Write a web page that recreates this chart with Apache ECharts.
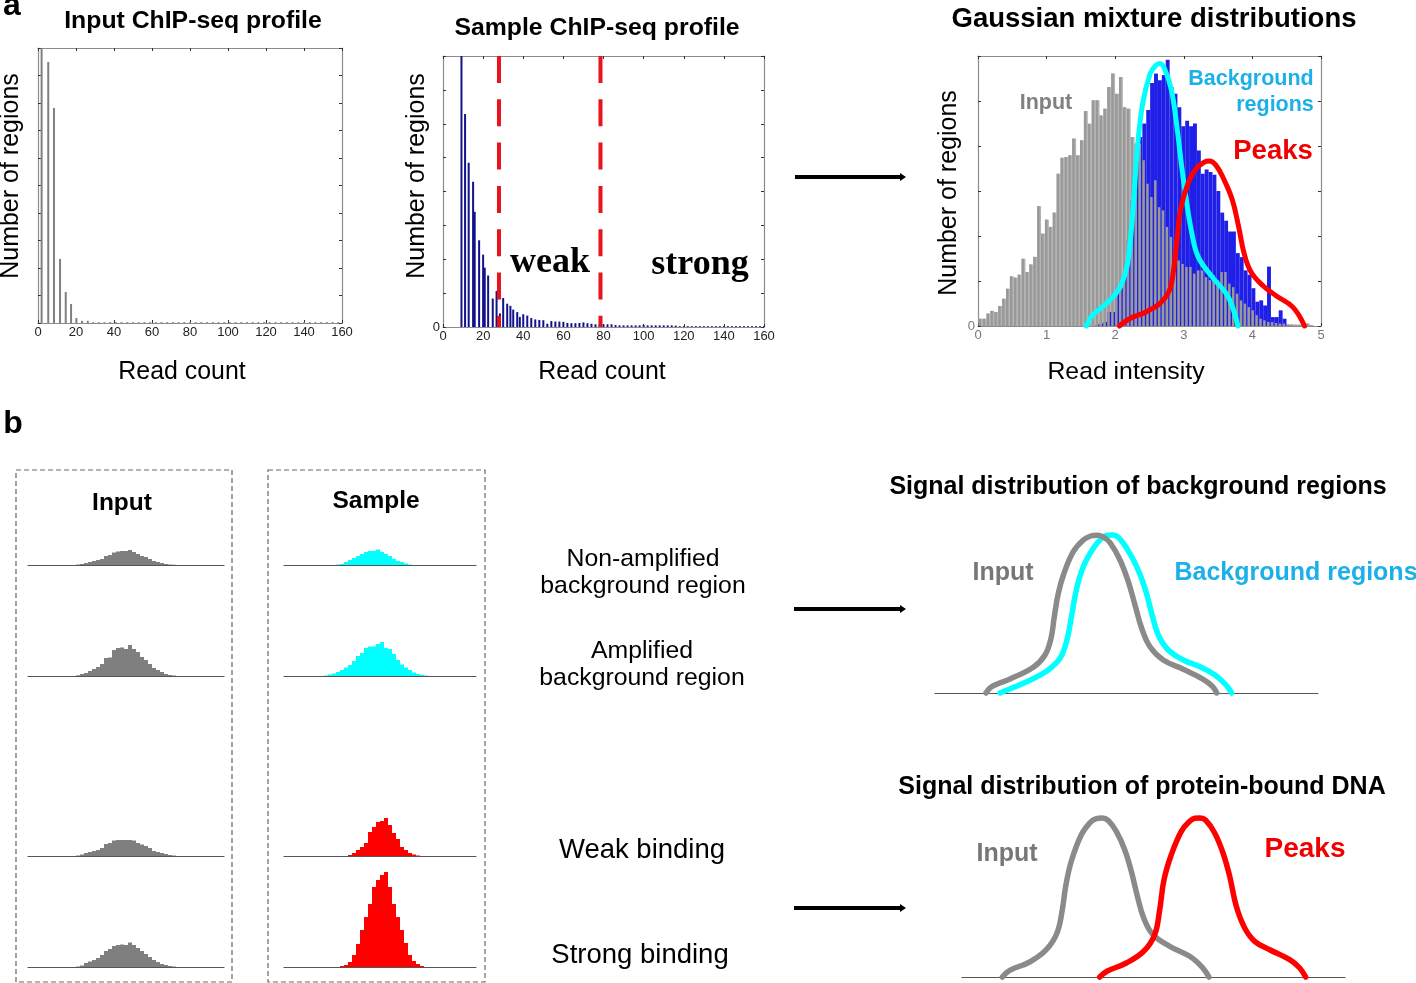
<!DOCTYPE html>
<html><head><meta charset="utf-8">
<script src="https://cdn.jsdelivr.net/npm/echarts@6/dist/echarts.min.js"></script>
<style>html,body{margin:0;padding:0;background:#fff}#c{width:1416px;height:983px}</style>
</head><body><div id="c"></div>
<script>
// ---------- panel a: input profile
const inputCounts = [1.9,5.4,8.4,11.6,14.6,17.4,20.2,23.2,26.2,29,32,35,38,41,44,47,50,53,56,59,62,65,68,71,74,77,80,83,86,89,92,95,98,101,104,107,110,113,116,119,122,125,128,131,134,137,140,143,146,149,152,155,158];
const inputRegions = [100,94.9,78.2,23.3,11.3,6.9,1.8,0.8,0.8,0.3,0.3,0.3,0.3,0.3,0.3,0.3,0.3,0.3,0.3,0.3,0.3,0.3,0.3,0.3,0.3,0.3,0.3,0.3,0.3,0.3,0.3,0.3,0.3,0.3,0.3,0.3,0.3,0.3,0.3,0.3,0.3,0.3,0.3,0.3,0.3,0.3,0.3,0.3,0.3,0.3,0.3,0.3,0.3];
// ---------- panel a: sample profile
const sampleCounts = [9.2,11,12.8,15,15.8,18,20,20.8,22.5,24.8,26.7,28.4,30,32,33.6,35,37,38.3,40,42,44,46,48,50,52,54,56,58,60,62,64,66,68,70,72,74,76,78,80,82,84,86,88,90,92,94,96,98,100,102,104,106,108,110,112,114,116,118,120,122,124,126,128,130,132,134,136,138,140,142,144,146,148,150,152,154,156,158,160];
const sampleRegions = [100,78.6,60.6,53.6,42.5,32,26.7,21.9,19,10.5,13.3,5,10.7,8.6,7.8,6.4,5.5,3.7,4.7,4.2,3.3,2.8,2.6,2.5,1.2,2.2,2,2,1.9,1.5,1.4,1.4,1.5,1.7,1.4,1.2,1,0.9,1,1,1,0.7,0.6,0.6,0.6,0.6,0.6,0.6,0.8,0.6,0.6,0.6,0.6,0.6,0.6,0.6,0.5,0.3,0.3,0.3,0.3,0.3,0.3,0.3,0.3,0.3,0.3,0.3,0.3,0.3,0.3,0.3,0.3,0.3,0.3,0.3,0.3,0.3,0.3];
const weakCut = [27.9,27.9], strongCut = [78.5,78.5], cutRegions = [100,0];
// ---------- panel a: gaussian mixture
const binWidth = 0.0568;
const inputIntensity = [2.7,2.7,4.6,5.6,5.2,7.4,10.1,13.8,18.4,17.9,19,24.9,20,22.8,25.6,44.4,34.2,39.4,36.7,42,56.4,62.3,62.6,63.2,69.4,63.2,68.8,79.6,74.9,83.6,83.6,78,80.5,88.5,93.5,86,92.2,81,80.5,70,67.5,67.5,61.4,52.7,47.8,54,44,42.8,36.7,33,26.8,24.3,23,21.9,21.9,19.4,20.6,20.6,18.1,17,18.8,17,20,20,15.7,14.4,12,9.5,8.3,7,5.8,4,2.7,2.1,1.5,1.5,1.1,0.9,0.9,0.6,0.6,0.5,0.5,0.9,0.9,0.3];
const sampleIntensity = [0,0,0,0,0,0,0,0,0,0,0,0,0,0,0,0,0,0,0,0,0,0,0,0,0,0,0,0,0,0,0.5,0.9,1.5,5.2,5.2,13,14,19.4,32,46.5,62.6,70,75,80,90,93.5,91,93,98.6,88.5,86,81,74,76,74,75,65,56.4,58,57,56,50,42,39,35,35,27,25.5,20.6,19,14,9,9.5,7.6,22,3.3,3.3,5.8,2.7,0.2];
const bgCurveX = [1.58,1.67,1.87,2.06,2.17,2.22,2.27,2.32,2.40,2.51,2.59,2.65,2.72,2.82,2.90,2.97,3.03,3.11,3.21,3.42,3.62,3.71,3.79];
const bgCurveY = [0,4,8.3,13.9,21.9,31.8,46.5,65,82.3,93.5,96.5,97.2,95.3,87.3,73.7,58.9,47.8,35.4,25.6,18,12,7,0];
const peakCurveX = [2.06,2.21,2.45,2.65,2.79,2.85,2.90,2.95,3.06,3.18,3.30,3.37,3.47,3.59,3.71,3.80,3.88,3.98,4.15,4.34,4.59,4.76];
const peakCurveY = [0,2.7,5.2,8.3,13.2,20.6,31.7,42.8,52.7,58.3,60.7,61.1,59.5,54,46.5,36.7,26.8,20,15,11.3,7,0];
// ---------- panel b: region histograms
const inputNonAmp = [0,0,0,0,0,0,0,0,0,0,0,0,0.5,1,2,3,4,5,6,9,10,12.5,13.5,14,14,15,13,11,9,8,6,4,3,2,1,0.5,0.3,0,0,0,0,0,0,0,0,0,0,0,0];
const inputAmp = [0,0,0,0,0,0,0,0,0,0,0,0,0.7,2,3,5,7,9,12,18,18.5,26,28,28.5,27,31,27,24,19,16,12,8,6,4,2,1,0.5,0,0,0,0,0,0,0,0,0,0,0,0];
const inputWeak = [0,0,0,0,0,0,0,0,0,0,0,0,0.5,1.5,3,4,5,6,8,12,13,15.5,16,16,16,16,15.5,13,11.5,10,8,5,4,3,2,1,0.5,0,0,0,0,0,0,0,0,0,0,0,0];
const inputStrong = [0,0,0,0,0,0,0,0,0,0,0,0,0.5,1.5,4,5.5,7,9,12,16,18,21,22,22.5,22,24.5,22,19,16,13,10,7,5,3,2,1,0.5,0,0,0,0,0,0,0,0,0,0,0,0];
const sampleNonAmp = [0,0,0,0,0,0,0,0,0,0,0,0,0,0.5,1,3,5,7,9,11,13,14,14,15.5,13,11,9,6,4,3,1.5,0.5,0,0,0,0,0,0,0,0,0,0,0,0,0,0,0,0];
const sampleAmp = [0,0,0,0,0,0,0,0,0,0,0.5,1.5,2.5,4,6,8.5,11,15,20,23,28,29.5,29.5,32,34,28,27,22,16,11.5,8.5,6,3.5,2,1,0.5,0,0,0,0,0,0,0,0,0,0,0,0];
const sampleWeak = [0,0,0,0,0,0,0,0,0,0,0,0,0,0,0,0,1,3,6,9,13,24,29,34,35,38,31,23,17,9,6,3,1.5,0.5,0,0,0,0,0,0,0,0,0,0,0,0,0,0];
const sampleStrong = [0,0,0,0,0,0,0,0,0,0,0,0,0,0,1,2,5,12,23,37,50,63,80,87,92,95,80,63,50,37,24,12,6,3,1,0,0,0,0,0,0,0,0,0,0,0,0,0];
// ---------- panel b: schematic curves
const bgInputX = [51,56.7,75,98.3,110,116,119.3,123.3,129,138.3,148.3,155.7,161.7,167.7,175,185,193.3,200,206.7,215,228.3,248.3,268.3,277.7,281.7];
const bgInputY = [0,6.3,14,25.7,38,54.7,76.3,99.7,119.7,141.3,153,157,157.7,156.3,150.3,133,111.3,88,64.7,46.3,33,23.7,13.7,6.3,0];
const bgRegionX = [65,72.3,91.7,111.7,125,132.3,137,141.7,148.3,158.3,166.7,172.3,177.7,183.3,191.7,201.7,210,216.7,223.3,233.3,248.3,265,280,291,296.7];
const bgRegionY = [0,3,11.3,22,34.7,54.7,79.7,104.7,126.3,144.7,154.7,157.7,158,155.7,144.7,126.3,104.7,79.7,58,43,33,26.3,18,8,0];
const dnaInputX = [40.3,47.7,67.7,84.3,95,100.3,103.7,109.3,119.3,128.3,134.3,140.3,146,154.3,162.7,169.3,175,181.7,191,207.7,227.7,240.3,247];
const dnaInputY = [0,6.7,15,27.3,44,67.3,90.7,115.7,142.3,154.7,158.3,159,156.7,145.7,127.3,105.7,82.3,59,42.3,30.7,20.7,9.7,0];
const dnaPeakX = [137.7,145,164.3,181.7,192.7,197.7,202,209.3,219.3,227.7,232.7,237.7,243.7,252.7,261,267.7,274.3,282.7,292.7,307.7,327.7,337.7,343.7];
const dnaPeakY = [0,5.7,14,25.7,42.3,67.3,97.3,122.3,145.7,155.7,158.7,159,156.7,144,124,100.7,70.7,49,35.7,27.3,17.3,9,0];

const FONT = '"Liberation Sans", Arial, sans-serif';
const GRAY='#8a8a8a', CYAN='#00ffff', RED='#ff0000', SKY='#1cb0e8';
const zip=(a,b)=>a.map((v,i)=>[v,b[i]]);
const grids=[], xAxes=[], yAxes=[], series=[];

function frame(g, xMax, xInt, yMax, yInt, showZero, labelColor){
  const gi=grids.length; grids.push(Object.assign({containLabel:false},g));
  const base={type:'value',gridIndex:gi,splitLine:{show:false},
    axisLine:{show:true,onZero:false,lineStyle:{color:'#8c8c8c',width:1.2}},
    axisTick:{show:true,inside:true,length:3,lineStyle:{color:'#333',width:1}}};
  const xi=xAxes.length, yi=yAxes.length;
  xAxes.push(Object.assign({},base,{position:'bottom',min:0,max:xMax,interval:xInt,
    axisLabel:{show:true,color:labelColor,fontSize:13,fontFamily:FONT,margin:3,hideOverlap:false}}));
  xAxes.push(Object.assign({},base,{position:'top',min:0,max:xMax,interval:xInt,axisLabel:{show:false}}));
  yAxes.push(Object.assign({},base,{position:'left',min:0,max:yMax,interval:yInt,
    axisLabel:{show:showZero,color:labelColor,fontSize:13,fontFamily:FONT,margin:3,formatter:v=>v===0?'0':''}}));
  yAxes.push(Object.assign({},base,{position:'right',min:0,max:yMax,interval:yInt,axisLabel:{show:false}}));
  return {xAxisIndex:xi,yAxisIndex:yi};
}
function bars(ax,data,color,w,extra){
  series.push(Object.assign({type:'bar',xAxisIndex:ax.xAxisIndex,yAxisIndex:ax.yAxisIndex,data,barWidth:w,barGap:'-100%',
    itemStyle:{color},silent:true,animation:false},extra||{}));
}
function curve(ax,data,color,w,extra){
  series.push(Object.assign({type:'line',xAxisIndex:ax.xAxisIndex,yAxisIndex:ax.yAxisIndex,data,smooth:0.4,symbol:'none',
    clip:false,z:5,lineStyle:{color,width:w,cap:'round',join:'round'},silent:true,animation:false},extra||{}));
}
// Panel a
const a1=frame({left:38,top:48,width:304,height:275},160,20,100,10,false,'#222');
bars(a1,zip(inputCounts,inputRegions),'#7f7f7f',2);
const a2=frame({left:443,top:56,width:321,height:271},160,20,100,12.5,true,'#222');
bars(a2,zip(sampleCounts,sampleRegions),'#12128c',2);
[weakCut,strongCut].forEach(c=>{
  series.push({type:'line',xAxisIndex:a2.xAxisIndex,yAxisIndex:a2.yAxisIndex,data:zip(c,cutRegions),symbol:'none',clip:true,z:5,silent:true,animation:false,
    lineStyle:{color:'#e8141c',width:4,type:[27,16.3]}});
});
const a3=frame({left:978,top:56,width:343,height:270},5,1,100,100/6,true,'#777');
const inputBars=inputIntensity.map((v,i)=>[(i+0.5)*binWidth,v]);
bars(a3,inputBars,'#b4b4b4',3.9);
bars(a3,sampleIntensity.map((v,i)=>[(i+0.5)*binWidth,v]),'#1f1fe8',3.9);
bars(a3,inputBars,'#999999',2.5);
curve(a3,zip(bgCurveX,bgCurveY),CYAN,5);
curve(a3,zip(peakCurveX,peakCurveY),RED,5);

// Panel b region histograms
function hist(left,width,baseline,data,color){
  const gi=grids.length; grids.push({left,width,top:baseline-100,height:100,containLabel:false});
  const xi=xAxes.length, yi=yAxes.length;
  xAxes.push({type:'category',gridIndex:gi,data:data.map((_,i)=>i+1),axisLine:{show:true,onZero:false,lineStyle:{color:'#555',width:1.2}},axisTick:{show:false},axisLabel:{show:false},splitLine:{show:false}});
  yAxes.push({type:'value',gridIndex:gi,min:0,max:100,show:false,splitLine:{show:false}});
  series.push({type:'bar',xAxisIndex:xi,yAxisIndex:yi,data,barWidth:'100%',itemStyle:{color},silent:true,animation:false});
}
const rows=[565,676,856,967];
[inputNonAmp,inputAmp,inputWeak,inputStrong].forEach((d,i)=>hist(28,196,rows[i],d,'#7f7f7f'));
[sampleNonAmp,sampleAmp].forEach((d,i)=>hist(284,192,rows[i],d,CYAN));
[sampleWeak,sampleStrong].forEach((d,i)=>hist(284,192,rows[i+2],d,RED));

// Panel b schematics
function schematic(left,baseline){
  const gi=grids.length; grids.push({left,width:383,top:baseline-170,height:170,containLabel:false});
  const xi=xAxes.length, yi=yAxes.length;
  xAxes.push({type:'value',gridIndex:gi,min:0,max:383,axisLine:{show:true,onZero:false,lineStyle:{color:'#555',width:1.2}},axisTick:{show:false},axisLabel:{show:false},splitLine:{show:false}});
  yAxes.push({type:'value',gridIndex:gi,min:0,max:170,show:false,splitLine:{show:false}});
  return {xAxisIndex:xi,yAxisIndex:yi};
}
const s1=schematic(935,693);
curve(s1,zip(bgRegionX,bgRegionY),CYAN,5.5);
curve(s1,zip(bgInputX,bgInputY),GRAY,5.5,{z:6});
const s2=schematic(962,977);
curve(s2,zip(dnaInputX,dnaInputY),GRAY,5.5);
curve(s2,zip(dnaPeakX,dnaPeakY),RED,5.5,{z:6});

// Text and annotation
function T(text,x,y,size,opt){
  opt=opt||{};
  return {type:'text',x,y:opt.rot?y:y+1.5,rotation:opt.rot||0,z:50,silent:true,style:{text,x:0,y:0,
    font:(opt.bold?'bold ':'')+size+'px '+(opt.family||FONT),fill:opt.color||'#000',
    textAlign:opt.align||'center',textVerticalAlign:'middle',textBaseline:'middle'}};
}
const R=Math.PI/2;
const texts=[
 T('a',12,5,32,{bold:true}), T('b',13,423,32,{bold:true}),
 T('Input ChIP-seq profile',193,20,24.8,{bold:true}),
 T('Sample ChIP-seq profile',597,27,24.8,{bold:true}),
 T('Gaussian mixture distributions',1154,18,27.5,{bold:true}),
 T('Number of regions',11.5,176,25,{rot:R}), T('Number of regions',417,176,25,{rot:R}), T('Number of regions',949.5,193,25,{rot:R}),
 T('Read count',182,371,24.9), T('Read count',602,371,24.9), T('Read intensity',1126,371,24.8),
 T('weak',550,261,36,{bold:true,family:'"Liberation Serif", serif'}),
 T('strong',700,263,36,{bold:true,family:'"Liberation Serif", serif'}),
 T('Input',1046,102,21.5,{bold:true,color:'#808080'}),
 T('Background',1251,78,21.5,{bold:true,color:SKY}), T('regions',1275,104,21.5,{bold:true,color:SKY}),
 T('Peaks',1273,150,27.5,{bold:true,color:'#f00000'}),
 T('Input',122,502,24.5,{bold:true}), T('Sample',376,500,24.5,{bold:true}),
 T('Non-amplified',643,558,24.8), T('background region',643,585,24.8),
 T('Amplified',642,650,24.8), T('background region',642,677,24.8),
 T('Weak binding',642,849,27.5), T('Strong binding',640,954,27.5),
 T('Signal distribution of background regions',1138,486,25,{bold:true}),
 T('Signal distribution of protein-bound DNA',1142,786,25,{bold:true}),
 T('Input',1003,572,25,{bold:true,color:'#777'}),
 T('Background regions',1296,572,25,{bold:true,color:SKY}),
 T('Input',1007,853,25,{bold:true,color:'#777'}),
 T('Peaks',1305,848,28,{bold:true,color:'#f00000'})
];
const box=(x,y,w,h)=>({type:'rect',z:40,silent:true,shape:{x,y,width:w,height:h},style:{fill:'none',stroke:'#666',lineWidth:1.2,lineDash:[5,3]}});
const arrow=(x1,x2,y)=>[
 {type:'line',z:40,silent:true,shape:{x1,y1:y,x2:x2-3,y2:y},style:{stroke:'#000',lineWidth:4}},
 {type:'polygon',z:40,silent:true,shape:{points:[[x2-5,y-4],[x2+1,y],[x2-5,y+4]]},style:{fill:'#000'}}
];
const graphicEls=[box(16,470,216,512),box(268,470,217,512),...arrow(795,905,177),...arrow(794,905,609),...arrow(794,905,908),...texts];

const chart=echarts.init(document.getElementById('c'));
chart.setOption({animation:false,backgroundColor:'#fff',tooltip:{show:false},legend:{show:false},
  grid:grids,xAxis:xAxes,yAxis:yAxes,series,graphic:{elements:graphicEls}});
</script></body></html>
